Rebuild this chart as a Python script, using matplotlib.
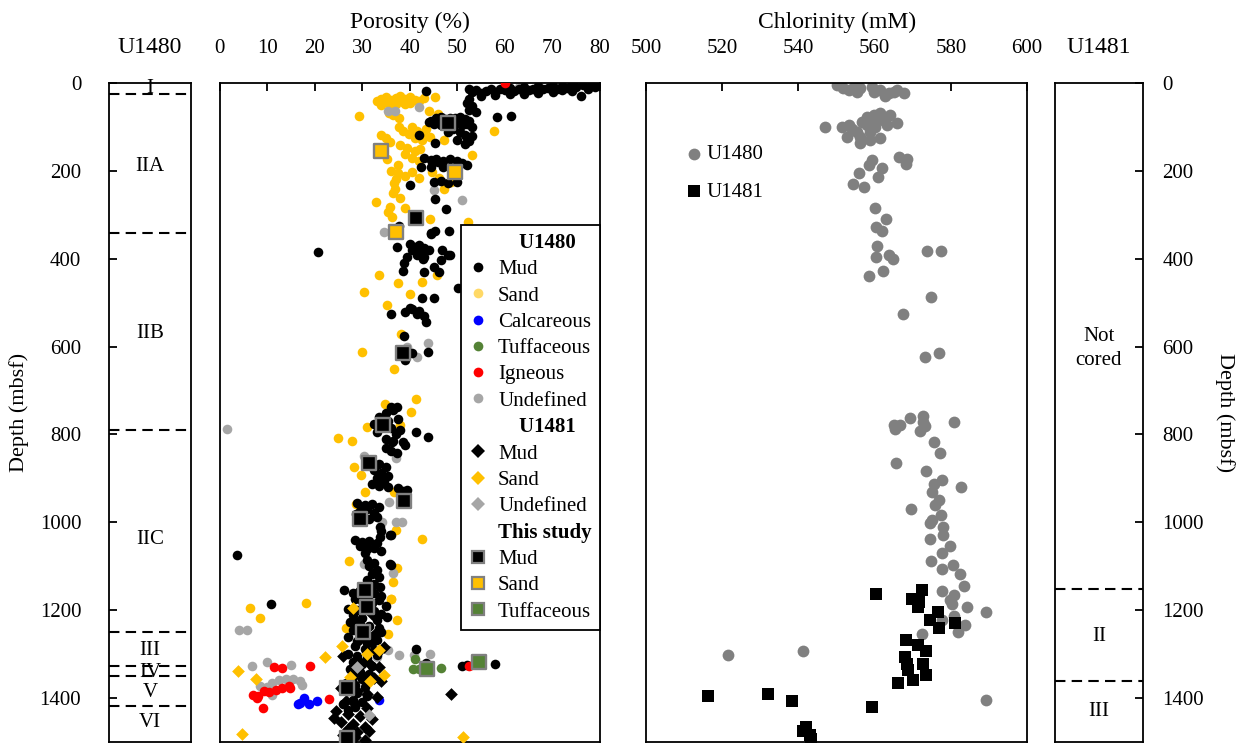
import numpy as np
import matplotlib.pyplot as plt
from matplotlib.lines import Line2D

plt.rcParams['font.family'] = 'Liberation Serif'
plt.rcParams['font.size'] = 15

#%% data: (porosity %, depth mbsf)
u1480_mud = [(79.5,2),(78,5),(76.5,4),(75,8),(74,3),(73,10),(72,6),(71,12),(70,5),(69,10),(68,14),(67,7),
             (66,12),(65,16),(64,8),(63,13),(62,18),(61,10),(60,16),(59,12),(58,20),(57,14),(56,18),(55,22),
             (54,16),(53,20),(52.5,12),(76,28),(74,18),(72,16),(70,20),(67,22),(64,24),(61,24),(58,26),(55,28),
             (77.5,14),(79,8),(52.5,35),(52,45),(53,52),(52.5,60),(54,65),(43.5,17),(58.3,77),(61.3,74),
             (44.5,85),(45.5,80),(46.5,76),(47.5,82),(48.5,78),(49.5,80),(50.5,76),(51.5,82),(52.5,86),(45,92),
             (46.5,95),(48,98),(49.5,93),(51,96),(53,100),(44,88),(47,88),(50,88),(52,92),(49,105),(50.5,112),
             (51.5,118),(52,125),(53,120),(50,130),(51.5,138),(52.5,132),(45.4,136),(42,118),(48,110),
             (43,171),(44.5,175),(45.5,172),(47,176),(48.5,173),(50,178),(51,182),(52,186),(46,180),(42.3,190),
             (44.5,190),(47,190),(45,225),(46.5,223),(48,227),(50,224),(40,232),(45.4,264),(47.6,286),(37.8,324),
             (44.5,340),(45.4,336),(48.2,336),(44.4,343),(37.3,372),(40,366),(41,372),(42,368),(43,375),(40.5,380),
             (42.5,385),(44,380),(41.5,392),(46.8,380),(48,390),(39.5,395),(42.7,400),(38.8,410),(43,395),
             (46.5,403),(48.4,391),(38.6,427),(43,429),(45,418),(46.1,429),(50.1,467),(42.5,488),(45,488),
             (40,511),(20.8,385),(36,525),(39,520),(40.5,515),(42,518),(43,530),(41.5,525),(43.3,543),(38.8,575),
             (43.8,612),(40.5,614),(39,631),(36,738),(37.3,738),(33.5,760),(35,752),(36.5,745),(37.5,765),
             (35.5,770),(34,782),(36,786),(38,790),(37,800),(35,810),(36.5,815),(38.5,818),(32.5,775),(33,795),
             (41.2,795),(43.8,805),(36.2,817),(39,824),(37.3,843),(35,830),(36,838),(32,862),(33.5,868),(35,875),
             (32.5,880),(34,888),(33,898),(35.5,895),(34.5,905),(32,912),(33.5,918),(35.5,920),(37.6,922),
             (38.5,928),(39.4,926),(29,955),(30.5,960),(32,958),(33.5,965),(31,970),(29.5,975),(32.5,978),
             (30,985),(31.5,992),(33,988),(28.6,982),(33.8,1010),(34,1020),(33.8,1033),(36,1030),(35.9,1029),
             (28.5,1040),(30,1045),(31.5,1042),(33,1048),(29.5,1055),(31,1060),(32.5,1058),(34,1065),(30.5,1070),
             (3.6,1075),(31,1085),(32.5,1092),(36,1098),(31.5,1100),(33,1108),(32,1118),(33.5,1125),(31,1132),
             (32.5,1140),(33.8,1147),(35.8,1095),(26.2,1154),(28,1160),(29.5,1165),(31,1170),(32.5,1162),
             (34,1168),(28.5,1175),(30,1180),(32,1185),(33.5,1178),(35,1190),(10.9,1186),(27,1198),(29,1200),
             (32.5,1203),(34,1210),(28,1212),(30,1218),(33,1222),(35.2,1215),(27.5,1228),(29.5,1232),(31.5,1236),
             (33.5,1240),(28,1245),(30,1255),(32,1260),(34,1250),(27,1262),(29,1270),(31,1275),(33,1268),
             (28.5,1282),(30.5,1288),(32.5,1292),(41.3,1289),(43.5,1320),(51,1327),(52,1325),(57.9,1322),
             (27,1300),(29,1305),(31,1310),(33,1302),(28,1318),(30,1322),(32,1328),(27.5,1335),(29.5,1340),
             (31.5,1345),(28,1352),(30,1358),(26.5,1365),(28.5,1370),(30.5,1375),(27,1385),(29,1390),(31,1395),
             (28,1405),(30,1410),(26,1415),(28.5,1420),(27,1428)]
u1480_sand = [(80,1),(33,40),(34,36),(35,32),(36,38),(37,34),(38,30),(39,36),(40,32),(41,38),(35.5,44),(37,46),
              (38.5,42),(40,45),(42,40),(34,50),(36.5,52),(39,48),(43,33),(45.4,31),(29.4,75),(35.6,67),(36.5,72),
              (37.7,78),(44,62),(46,70),(57.8,109),(47.1,130),(53,163),(37.7,100),(38.5,108),(39.8,115),(40.4,100),
              (41.5,108),(42.5,115),(43.5,105),(41,125),(42.5,130),(44.3,122),(33.9,118),(35,125),(35.8,133),
              (38,140),(39.5,148),(41,155),(42.2,150),(39,162),(40.5,170),(42,178),(35.2,172),(37.5,185),(36,200),
              (37.5,205),(39,210),(40.5,203),(42,215),(37,218),(44.6,203),(46.2,215),(48.6,225),(47.2,240),
              (36.6,228),(36.8,240),(36.5,250),(32.9,270),(35.8,282),(35.5,292),(36.3,305),(44.3,309),(52.3,315),
              (38,262),(39,285),(33.5,437),(30.3,475),(35.2,505),(42.6,452),(45.8,437),(38.2,572),(30,613),
              (36.6,650),(37.5,455),(40,480),(41.2,720),(34.7,731),(40.3,749),(24.9,807),(27.8,815),(31,784),
              (38,779),(28.2,875),(29.8,892),(30.6,930),(36.6,931),(28.7,958),(37.2,1018),(42.5,1037),(27.3,1088),
              (37.3,1104),(36.4,1136),(36.1,1175),(37.4,1223),(18.2,1185),(6.4,1196),(8.5,1217),(36,1174),
              (26.5,1240),(35.5,1255)]
u1480_calc = [(16.5,1414),(17.7,1401),(18.8,1413),(20.5,1406),(33.5,1405),(17,1411)]
u1480_tuff = [(41,1311),(40.6,1335),(41.9,1335),(46.5,1333)]
u1480_ign = [(60,0),(11.4,1330),(13.2,1333),(19.1,1327),(7.1,1393),(7.9,1401),(9.2,1422),(9.3,1384),
             (11.8,1383),(13.2,1378),(14.6,1372),(14.9,1378),(23.1,1402),(52.4,1327),(10.5,1386),(8,1396)]
u1480_undef = [(63,8),(69.6,6),(73,3),(35.5,63),(36.9,63),(42,55),(45,243),(51,266),(34.6,338),(39.5,600),
               (41.6,624),(43.8,591),(1.5,787),(30.3,850),(37,854),(35.6,953),(34.2,999),(37,1000),(38.4,1000),
               (30.3,1095),(36.5,1116),(4.1,1245),(5.7,1245),(6.9,1327),(9.9,1318),(15.1,1324),(11,1365),
               (12.5,1360),(14,1358),(15.5,1356),(17,1362),(17.4,1370),(11.1,1393),(33.1,1306),(37.7,1303),
               (40.9,1303),(44.2,1299),(8.5,1372),(10,1375),(35.5,1290)]
u1481_mud = [(29,1160),(31,1175),(30,1195),(32,1210),(28.5,1225),(31,1240),(33,1250),(29.5,1265),(32,1275),
             (34.5,1285),(33,1298),(26,1305),(29,1312),(31.5,1320),(33.5,1330),(28,1342),(30,1348),(32.5,1355),
             (34,1362),(27,1370),(25.5,1378),(29,1385),(31,1392),(33,1398),(48.6,1391),(26.5,1408),(28.5,1415),
             (31,1422),(24.5,1430),(27,1436),(29.5,1442),(32,1448),(25.5,1455),(28,1460),(30.5,1466),(27,1472),
             (29,1478),(26,1485),(28.5,1490),(30.5,1495),(27.5,1498),(24,1446),(31.5,1475)]
u1481_sand = [(25.8,1282),(22.1,1308),(3.9,1339),(7.7,1358),(4.8,1482),(51.2,1489),(27.5,1352),(31.6,1361),
              (34.5,1348),(33.5,1290),(28,1195),(31,1300)]
u1481_undef = [(29,1330),(31.5,1440)]
study_mud = [(48,90),(41.2,306),(38.5,614),(34.3,778),(31.5,865),(38.8,951),(29.6,993),(30.5,1154),
             (31,1192),(30.2,1251),(26.7,1377),(26.7,1492)]
study_sand = [(34,154),(49.4,201),(37.2,338)]
study_tuff = [(43.7,1334),(54.6,1318)]

# chlorinity (mM), depth (mbsf)
cl_u1480 = [(550.1,4),(551.8,11),(554.5,8),(556.2,11),(559.3,8),(561.5,15),(562.8,30),(565,19),(567.6,23),
            (551,0),(553.2,15),(555.3,19),(559.7,19),(563.7,23),(565.9,15),(547,99),(551.4,99),(554,103),
            (552.7,122),(556.2,122),(556.2,137),(558,76),(559.7,72),(561.5,68),(564.1,72),(565.9,91),(563.2,95),
            (558.8,110),(561.5,125),(560.2,99),(558,95),(555.3,110),(562.3,84),(559.7,87),(558.8,129),
            (553.2,95),(556.7,87),(566.3,167),(568.5,173),(568.1,184),(559.3,175),(558.4,186),(555.8,205),
            (561.9,194),(560.8,214),(554.2,229),(557.1,237),(560.2,285),(563,310),(560.3,327),(561.9,336),
            (560.6,370),(560.3,396),(563.7,391),(564.7,400),(573.7,382),(577.4,382),(562.3,428),(558.4,438),
            (574.9,486),(567.4,526),(576.8,614),(573.1,623),(569.2,762),(572.6,758),(572.7,771),(565,778),
            (566.7,778),(565.4,788),(573.3,781),(571.8,791),(580.9,771),(575.7,816),(577.1,843),(565.6,864),
            (573.5,883),(577.7,904),(575.7,912),(582.7,920),(575,930),(576.8,949),(575.9,961),(569.5,970),
            (577.4,983),(575,995),(574.6,1001),(577.9,1010),(577.9,1029),(574.6,1038),(579.7,1053),(577.7,1069),
            (574.9,1088),(580.6,1098),(577.8,1107),(582.3,1117),(583.4,1145),(577.7,1156),(580.7,1166),
            (579.7,1176),(580.3,1187),(584.2,1192),(589.1,1204),(580.7,1214),(577.7,1223),(583.6,1234),
            (582,1251),(572.4,1255),(521.4,1303),(541.3,1293),(589.3,1404)]
cl_u1481 = [(560.4,1164),(572.4,1154),(569.8,1175),(571.6,1182),(571.4,1192),(576.5,1204),(574.6,1223),
            (576.8,1240),(581.2,1229),(568.2,1268),(571.5,1280),(573.5,1293),(567.9,1306),(568.5,1323),
            (572.7,1322),(568.7,1337),(573.5,1348),(570.1,1359),(566.1,1367),(516.2,1396),(532,1391),
            (538.4,1406),(559.3,1420),(541.9,1466),(541.3,1476),(543.1,1485),(543.4,1493)]

# lithologic units
u1480_bounds = [25, 340, 790, 1250, 1328, 1350, 1418]
u1480_units = ['I', 'IIA', 'IIB', 'IIC', 'III', 'IV', 'V', 'VI']
u1480_unit_dep = [12, 190, 570, 1040, 1292, 1342, 1388, 1455]
u1481_bounds = [1152, 1362]
u1481_units = ['Not\ncored', 'II', 'III']
u1481_unit_dep = [604, 1260, 1432]

#%%
c_mud, c_sand, c_calc = 'black', '#FFC000', '#0000FF'
c_tuff, c_ign, c_und = '#548235', '#FF0000', '#A6A6A6'

fig = plt.figure(figsize=(12.46, 7.44), dpi=100)
top, h = 0.888, 0.885
ax1 = fig.add_axes([0.0875, top - h, 0.0658, h])
ax2 = fig.add_axes([0.1762, top - h, 0.3054, h])
ax3 = fig.add_axes([0.5185, top - h, 0.3058, h])
ax4 = fig.add_axes([0.8467, top - h, 0.0706, h])

for ax in (ax1, ax2, ax3, ax4):
    ax.set_ylim(1500, 0)
    for s in ax.spines.values():
        s.set_linewidth(1.3)

def xy(pts):
    a = np.array(pts)
    return a[:, 0], a[:, 1]

# unit columns
for ax, bnds, names, deps in ((ax1, u1480_bounds, u1480_units, u1480_unit_dep),
                              (ax4, u1481_bounds, u1481_units, u1481_unit_dep)):
    ax.set_xlim(0, 1)
    ax.set_xticks([])
    for b in bnds:
        ax.axhline(b, color='black', lw=1.5, ls=(0, (5, 3)))
    for n, d in zip(names, deps):
        ax.text(0.5, d, n, ha='center', va='center', fontsize=15, linespacing=1.35)
    ax.set_yticks(np.arange(0, 1401, 200))
    ax.tick_params(axis='y', direction='in', length=6, width=1.3, labelsize=15)

ax1.tick_params(axis='y', pad=20)
ax1.set_ylabel('Depth (mbsf)', fontsize=16, labelpad=8)
ax1.set_title('U1480', fontsize=17, pad=22)
ax4.yaxis.tick_right()
ax4.yaxis.set_label_position('right')
ax4.tick_params(axis='y', pad=14)
ax4.set_ylabel('Depth (mbsf)', fontsize=16, rotation=270, labelpad=22)
ax4.set_title('U1481', fontsize=17, pad=22)

# porosity
ms, md, mq = 48, 42, 95
x, y = xy(u1480_mud); ax2.scatter(x, y, s=ms, c=c_mud, lw=0, zorder=3)
x, y = xy(u1480_sand); ax2.scatter(x, y, s=ms, c=c_sand, lw=0, zorder=2)
x, y = xy(u1480_calc); ax2.scatter(x, y, s=ms, c=c_calc, lw=0, zorder=3)
x, y = xy(u1480_tuff); ax2.scatter(x, y, s=ms, c=c_tuff, lw=0, zorder=3)
x, y = xy(u1480_ign); ax2.scatter(x, y, s=ms, c=c_ign, lw=0, zorder=3)
x, y = xy(u1480_undef); ax2.scatter(x, y, s=ms, c=c_und, lw=0, zorder=2)
x, y = xy(u1481_mud); ax2.scatter(x, y, s=md, c=c_mud, marker='D', lw=0, zorder=3)
x, y = xy(u1481_sand); ax2.scatter(x, y, s=md, c=c_sand, marker='D', lw=0, zorder=3)
x, y = xy(u1481_undef); ax2.scatter(x, y, s=md, c=c_und, marker='D', lw=0, zorder=3)
x, y = xy(study_mud); ax2.scatter(x, y, s=mq, c=c_mud, marker='s', edgecolors='#808080', lw=1.7, zorder=4)
x, y = xy(study_sand); ax2.scatter(x, y, s=mq, c=c_sand, marker='s', edgecolors='#808080', lw=1.7, zorder=4)
x, y = xy(study_tuff); ax2.scatter(x, y, s=mq, c=c_tuff, marker='s', edgecolors='#808080', lw=1.7, zorder=4)

ax2.set_xlim(0, 80)
ax2.set_xticks(np.arange(0, 81, 10))
ax2.set_yticks([])
ax2.xaxis.tick_top()
ax2.xaxis.set_label_position('top')
ax2.tick_params(axis='x', direction='in', length=6, width=1.3, labelsize=15, pad=18)
ax2.set_xlabel('Porosity (%)', fontsize=17, labelpad=8)

def hdr(t):
    return Line2D([], [], ls='none', label=t)

def mk(m, c, t, ec=None):
    return Line2D([], [], ls='none', marker=m, color=c, markersize=7 if m != 's' else 8.5,
                  markeredgecolor=ec or c, markeredgewidth=1.6 if ec else 0, label=t)

handles = [hdr('    U1480'), mk('o', c_mud, 'Mud'), mk('o', '#FFD966', 'Sand'), mk('o', c_calc, 'Calcareous'),
           mk('o', c_tuff, 'Tuffaceous'), mk('o', c_ign, 'Igneous'), mk('o', c_und, 'Undefined'),
           hdr('    U1481'), mk('D', c_mud, 'Mud'), mk('D', c_sand, 'Sand'), mk('D', c_und, 'Undefined'),
           hdr('This study'), mk('s', c_mud, 'Mud', '#808080'), mk('s', c_sand, 'Sand', '#808080'),
           mk('s', c_tuff, 'Tuffaceous', '#808080')]
leg = ax2.legend(handles=handles, loc='upper right', bbox_to_anchor=(1.0, 0.785), borderaxespad=0,
                 fontsize=15, handlelength=0.9, handletextpad=0.5, labelspacing=0.32, borderpad=0.4,
                 fancybox=False, framealpha=1, edgecolor='black')
leg.get_frame().set_linewidth(1.3)
for t in leg.get_texts():
    if t.get_text().strip() in ('U1480', 'U1481', 'This study'):
        t.set_fontweight('bold')
leg.set_zorder(10)

# chlorinity
x, y = xy(cl_u1480); ax3.scatter(x, y, s=72, c='#808080', lw=0, zorder=2, label='U1480')
x, y = xy(cl_u1481); ax3.scatter(x, y, s=72, c='black', marker='s', lw=0, zorder=3, label='U1481')
ax3.set_xlim(500, 600)
ax3.set_xticks(np.arange(500, 601, 20))
ax3.set_yticks([])
ax3.xaxis.tick_top()
ax3.xaxis.set_label_position('top')
ax3.tick_params(axis='x', direction='in', length=6, width=1.3, labelsize=15, pad=18)
ax3.set_xlabel('Chlorinity (mM)', fontsize=17, labelpad=8)
ax3.legend(loc='upper left', bbox_to_anchor=(0.06, 0.935), frameon=False, fontsize=15,
           handlelength=0.6, handletextpad=0.3, labelspacing=0.85, markerscale=1.0)

plt.savefig('out.png', dpi=100)
